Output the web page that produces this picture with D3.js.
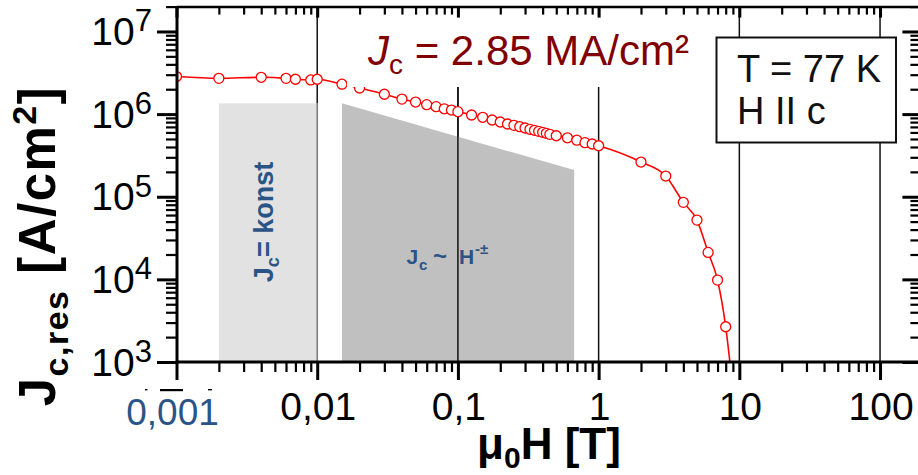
<!DOCTYPE html>
<html><head><meta charset="utf-8">
<script src="https://cdn.jsdelivr.net/npm/d3@7"></script>
<style>
body{margin:0;background:#fff}
svg{display:block;font-family:Arial,"Liberation Sans",sans-serif}
</style>
</head><body>
<svg id="chart" width="918" height="475"></svg>
<script>
// Measured resistive critical current density vs. applied field, T = 77 K, H || c
const fieldT = [0.001,0.002,0.004,0.006,0.007,0.009,0.01,0.015,0.02,0.03,0.04,0.05,0.06,0.07,0.08,0.09,0.1,
  0.125,0.15,0.175,0.2,0.225,0.25,0.275,0.3,0.325,0.35,0.375,0.4,0.425,0.45,0.5,0.6,0.7,0.8,0.9,1,2,3,4,5,6,7,8];
const jcRes = [2.85e6,2.71e6,2.79e6,2.71e6,2.64e6,2.59e6,2.64e6,2.30e6,2.07e6,1.74e6,1.52e6,1.40e6,1.30e6,1.23e6,1.16e6,1.12e6,1.07e6,
  9.75e5,9.15e5,8.49e5,8.02e5,7.59e5,7.32e5,7.04e5,6.79e5,6.55e5,6.37e5,6.19e5,6.02e5,5.86e5,5.69e5,5.47e5,5.17e5,4.83e5,4.51e5,4.35e5,4.14e5,
  2.63e5,1.78e5,8.55e4,5.22e4,2.12e4,9.8e3,2.67e3];
// guide curve runs on past the last measured point down to the axis
const tailT = [8.6];
const tailJ = [950];

// shaded regimes
const constRegionT = [0.002, 0.01];
const constRegionJ = 1.35e6;
const powerRegionT = [0.015, 0.67];
const powerRegionJ = [1.35e6, 2.1e5];

const xMajor = [0.001,0.01,0.1,1,10,100];
const xTickLabels = ["0,001","0,01","0,1","1","10","100"];
const yMajor = [1e3,1e4,1e5,1e6,1e7];
const yExponents = ["3","4","5","6","7"];

const svg = d3.select("#chart");
const x = d3.scaleLog().domain([0.001,200]).range([176.5,922.4]);
const y = d3.scaleLog().domain([1e3,2e7]).range([362,6.6]);
const pLeft = 177, pRight = 922.4, pTop = 6.6, pBottom = 362;

function minors(lo, hi){
  const out=[];
  for(let d=lo; d<=hi; d++) for(let k=2;k<=9;k++) out.push(k*Math.pow(10,d));
  return out;
}
const xMinor = minors(-3,1).concat([200]);
const yMinor = minors(3,6).concat([2e7]);

svg.append("defs").append("clipPath").attr("id","plotClip")
  .append("rect").attr("x",pLeft).attr("y",pTop).attr("width",pRight-pLeft).attr("height",pBottom-pTop);

// vertical decade grid lines
svg.append("g").selectAll("line").data(xMajor.slice(1)).join("line")
  .attr("x1",d=>x(d)).attr("x2",d=>x(d)).attr("y1",pTop).attr("y2",pBottom)
  .attr("stroke","#111").attr("stroke-width",1.5);

// dark region: J ~ H^-alpha
const powerPoly = [[powerRegionT[0],1e3],[powerRegionT[0],powerRegionJ[0]],[powerRegionT[1],powerRegionJ[1]],[powerRegionT[1],1e3]];
svg.append("path")
  .attr("d", d3.line().x(d=>x(d[0])).y(d=>y(d[1]))(powerPoly)+"Z")
  .attr("fill","#c0c0c0");
// re-draw the 0.1 grid line over the dark region
svg.append("line").attr("x1",x(0.1)).attr("x2",x(0.1)).attr("y1",pTop).attr("y2",pBottom)
  .attr("stroke","#111").attr("stroke-width",1.5);

// light region: J = const
svg.append("rect")
  .attr("x",x(constRegionT[0])).attr("y",y(constRegionJ))
  .attr("width",x(constRegionT[1])-x(constRegionT[0])+1).attr("height",pBottom-y(constRegionJ))
  .attr("fill","#e2e2e2");
svg.append("line").attr("x1",x(0.01)).attr("x2",x(0.01)).attr("y1",y(constRegionJ)).attr("y2",pBottom)
  .attr("stroke","#7a7a7a").attr("stroke-width",1.5);

// region labels
const blue = "#2b5486";
svg.append("text")
  .attr("transform",`translate(273,222) rotate(-90)`)
  .attr("text-anchor","middle").attr("font-size",27).attr("font-weight","bold").attr("fill",blue)
  .call(t=>{
    t.append("tspan").text("J");
    t.append("tspan").attr("font-size",18).attr("dy",6).text("c");
    t.append("tspan").attr("dy",-6).text("= konst");
  });
svg.append("g").attr("font-weight","bold").attr("fill",blue).call(g=>{
  g.append("text").attr("x",406.5).attr("y",264).attr("font-size",21).text("J");
  g.append("text").attr("x",419).attr("y",270).attr("font-size",15).text("c");
  g.append("text").attr("x",433).attr("y",264).attr("font-size",24).text("~");
  g.append("text").attr("x",459).attr("y",264).attr("font-size",21).text("H");
  g.append("text").attr("x",475).attr("y",254).attr("font-size",15).text("-\u00b1");
});

// data
const pts = fieldT.map((h,i)=>[h,jcRes[i]]);
const linePts = pts.concat(tailT.map((h,i)=>[h,tailJ[i]]));
const plot = svg.append("g").attr("clip-path","url(#plotClip)");
plot.append("path")
  .attr("d", d3.line().x(d=>x(d[0])).y(d=>y(d[1])).curve(d3.curveMonotoneX)(linePts))
  .attr("fill","none").attr("stroke","#ff0000").attr("stroke-width",1.6);
plot.selectAll("circle").data(pts).join("circle")
  .attr("cx",d=>x(d[0])).attr("cy",d=>y(d[1])).attr("r",5)
  .attr("fill","#fff").attr("stroke","#ff0000").attr("stroke-width",1.3);

// headline value with its own white backing
svg.append("rect").attr("x",347).attr("y",17).attr("width",360).attr("height",70).attr("fill","#fff");
svg.append("text").attr("x",368).attr("y",65).attr("font-size",42).attr("fill","#800000")
  .call(t=>{
    t.append("tspan").attr("font-style","italic").text("J");
    t.append("tspan").attr("font-size",28).attr("dy",9).text("c");
    t.append("tspan").attr("dy",-9).text(" = 2.85 MA/cm\u00b2");
  });

// condition box
svg.append("rect").attr("x",716.5).attr("y",37.5).attr("width",179.5).attr("height",105)
  .attr("fill","#fff").attr("stroke","#111").attr("stroke-width",2);
svg.append("text").attr("x",737).attr("y",82).attr("font-size",38).attr("fill","#111").text("T = 77 K");
svg.append("text").attr("x",737).attr("y",124).attr("font-size",38).attr("fill","#111").text("H II c");

// axes
function tickAxis(axisFn, scale, values, size, width, tr){
  const g = svg.append("g").attr("transform",tr)
    .call(axisFn(scale).tickValues(values).tickSize(size).tickFormat(""));
  g.select(".domain").remove();
  g.selectAll("line").attr("stroke","#000").attr("stroke-width",width);
  return g;
}
tickAxis(d3.axisBottom, x, xMinor, 10, 2.2, `translate(0,${pBottom})`);
tickAxis(d3.axisBottom, x, xMajor, 18, 3, `translate(0,${pBottom})`);
tickAxis(d3.axisLeft, y, yMinor, 11, 2.2, `translate(${pLeft},0)`);
tickAxis(d3.axisLeft, y, yMajor, 20, 3, `translate(${pLeft},0)`);
tickAxis(d3.axisBottom, x, xMinor, 8, 2.2, `translate(0,${pTop})`);
tickAxis(d3.axisBottom, x, xMajor, 11, 3, `translate(0,${pTop})`);
tickAxis(d3.axisLeft, y, yMinor, 12, 2.2, `translate(${pRight},0)`);
tickAxis(d3.axisLeft, y, yMajor, 20, 3, `translate(${pRight},0)`);

// frame
svg.append("line").attr("x1",pLeft).attr("x2",pRight+2).attr("y1",pTop+0.5).attr("y2",pTop+0.5).attr("stroke","#000").attr("stroke-width",2.5);
svg.append("line").attr("x1",pLeft).attr("x2",pRight+2).attr("y1",pBottom).attr("y2",pBottom).attr("stroke","#000").attr("stroke-width",3);
svg.append("line").attr("x1",pLeft).attr("x2",pLeft).attr("y1",pTop).attr("y2",pBottom).attr("stroke","#000").attr("stroke-width",3);

// tick labels
svg.append("g").selectAll("text").data(yMajor).join("text")
  .attr("x",152).attr("y",d=>y(d)+13.5).attr("text-anchor","end")
  .attr("font-size",39).attr("fill","#000")
  .each(function(d,i){
    const t=d3.select(this);
    t.append("tspan").text("10");
    t.append("tspan").attr("font-size",31).attr("dy",-13.5).text(yExponents[i]);
  });
svg.append("g").selectAll("text").data(xMajor).join("text")
  .attr("x",(d,i)=> i===0 ? x(d)-4 : x(d)+1)
  .attr("y",(d,i)=> i===0 ? 425 : 420)
  .attr("text-anchor","middle")
  .attr("font-size",(d,i)=> i===0 ? 37 : 39)
  .attr("fill",(d,i)=> i===0 ? blue : "#000")
  .text((d,i)=>xTickLabels[i]);
// small marks above the first field label
svg.append("g").attr("fill","#000").selectAll("rect")
  .data([[145,2.5],[160,23],[208,4]]).join("rect")
  .attr("x",d=>d[0]).attr("y",389).attr("width",d=>d[1]).attr("height",d=>d[1]>5?2.2:1.4);

// axis titles
svg.append("text").attr("x",549).attr("y",459).attr("text-anchor","middle")
  .attr("font-size",44).attr("font-weight","bold").attr("fill","#000")
  .call(t=>{
    t.append("tspan").text("\u03bc");
    t.append("tspan").attr("font-size",30).attr("dy",9).text("0");
    t.append("tspan").attr("dy",-9).text("H [T]");
  });
svg.append("text").attr("transform","translate(55,246) rotate(-90)").attr("text-anchor","middle")
  .attr("font-size",51).attr("font-weight","bold").attr("letter-spacing",1.5).attr("fill","#000")
  .call(t=>{
    t.append("tspan").text("J");
    t.append("tspan").attr("font-size",34).attr("dy",13).text("c,res");
    t.append("tspan").attr("dy",-13).text(" [A/cm");
    t.append("tspan").attr("font-size",34).attr("dy",-19).text("2");
    t.append("tspan").attr("dy",19).text("]");
  });
</script>
</body></html>
